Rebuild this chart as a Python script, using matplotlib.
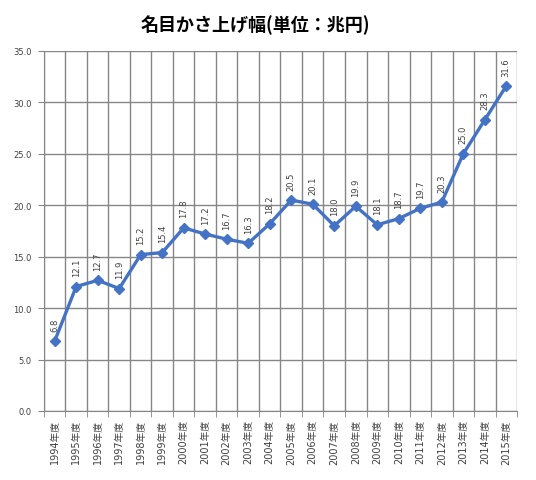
import matplotlib
matplotlib.use("Agg")
import matplotlib.pyplot as plt
import numpy as np

plt.rcParams['font.family'] = ['DejaVu Sans', 'Noto Sans CJK JP']

years = [str(y) + "年度" for y in range(1994, 2016)]
values = [6.8, 12.1, 12.7, 11.9, 15.2, 15.4, 17.8, 17.2, 16.7, 16.3, 18.2,
          20.5, 20.1, 18.0, 19.9, 18.1, 18.7, 19.7, 20.3, 25.0, 28.3, 31.6]
title = "名目かさ上げ幅(単位：兆円)"

fig = plt.figure(figsize=(5.36, 4.81), dpi=100)
ax = fig.add_axes([0.082, 0.1435, 0.8826, 0.7485])

x = np.arange(len(values))
ax.plot(x, values, color='#4472C4', linewidth=2.4, marker='D', markersize=5.5, zorder=3)

for xi, v in zip(x, values):
    ax.annotate(f"{v:.1f}", (xi, v), xytext=(0, 7.5), textcoords='offset points',
                rotation=90, ha='center', va='bottom', fontsize=6, color='#404040')

ax.set_xlim(-0.5, len(values) - 0.5)
ax.set_ylim(0, 35)
ax.set_yticks(np.arange(0, 35.1, 5))
ax.set_yticklabels([f"{t:.1f}" for t in np.arange(0, 35.1, 5)], fontsize=6, color='#404040')

ax.set_xticks(x)
ax.set_xticklabels(years, rotation=90, fontsize=7, color='#404040')
ax.tick_params(axis='x', length=0, pad=6)
ax.set_xticks(np.arange(-0.5, len(values), 1), minor=True)
ax.tick_params(axis='x', which='minor', length=4, color='#868686', direction='out')
ax.tick_params(axis='y', length=4, color='#868686', direction='out', pad=5)

ax.grid(True, axis='y', color='#868686', linewidth=1.0)
ax.grid(True, axis='x', which='minor', color='#868686', linewidth=1.0)
ax.grid(False, axis='x', which='major')
ax.set_axisbelow(True)

for s in ['top', 'right']:
    ax.spines[s].set_visible(False)
for s in ['left', 'bottom']:
    ax.spines[s].set_color('#868686')

fig.text(0.476, 0.948, title, ha='center', va='center', fontsize=13, fontweight='bold',
         family=['Noto Sans CJK JP', 'DejaVu Sans'])

fig.savefig("out.png", dpi=100)
